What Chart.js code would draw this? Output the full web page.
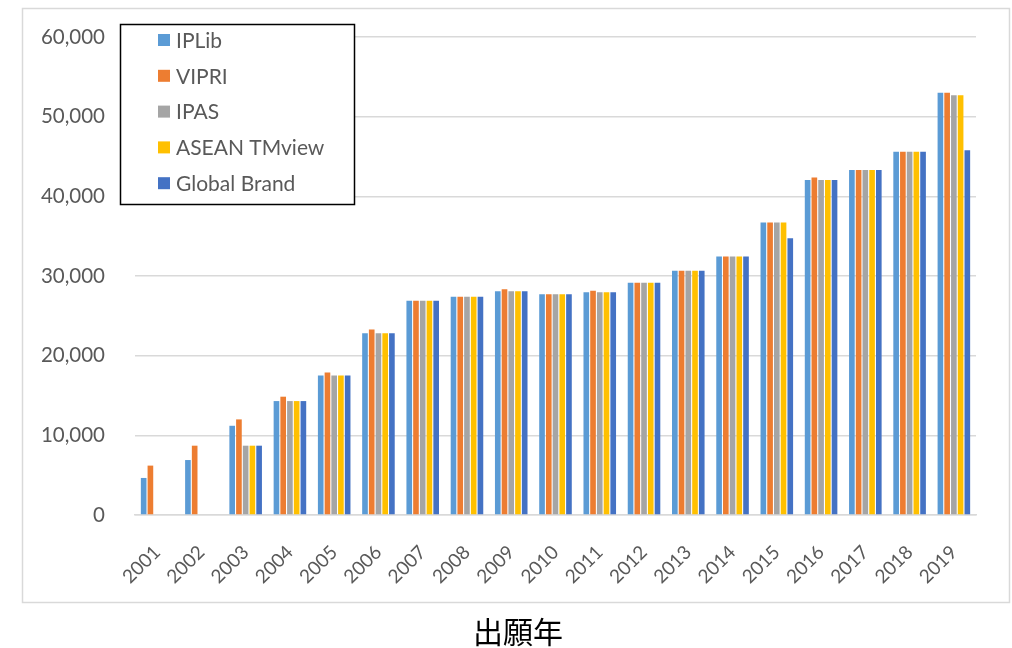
<!DOCTYPE html>
<html>
<head>
<meta charset="utf-8">
<script src="https://cdn.jsdelivr.net/npm/chart.js@4/dist/chart.umd.min.js"></script>
<style>
  html, body { margin: 0; padding: 0; background: #ffffff; }
  #wrap { position: relative; width: 1012px; height: 648px; }
  canvas { display: block; }
</style>
</head>
<body>
<div id="wrap"><canvas id="c" width="1012" height="648"></canvas></div>
<script>
const years = ['2001','2002','2003','2004','2005','2006','2007','2008','2009','2010','2011','2012','2013','2014','2015','2016','2017','2018','2019'];
const seriesNames = ['IPLib', 'VIPRI', 'IPAS', 'ASEAN TMview', 'Global Brand'];
const ipLib       = [4650, 6900, 11200, 14300, 17500, 22800, 26900, 27400, 28100, 27700, 27950, 29150, 30650, 32450, 36700, 42050, 43300, 45600, 53000];
const vipri       = [6200, 8700, 12000, 14850, 17900, 23300, 26900, 27400, 28350, 27700, 28150, 29150, 30650, 32450, 36700, 42350, 43300, 45600, 53000];
const ipas        = [null, null, 8700, 14300, 17500, 22800, 26900, 27400, 28100, 27700, 27950, 29150, 30650, 32450, 36700, 42050, 43300, 45600, 52700];
const aseanTMview = [null, null, 8700, 14300, 17500, 22800, 26900, 27400, 28100, 27700, 27950, 29150, 30650, 32450, 36700, 42050, 43300, 45600, 52700];
const globalBrand = [null, null, 8700, 14300, 17500, 22800, 26900, 27400, 28100, 27700, 27950, 29150, 30650, 32450, 34750, 42050, 43300, 45600, 45800];
const yTicks = [0, 10000, 20000, 30000, 40000, 50000, 60000];
const axisTitle = '出願年';

const colors = ['#5B9BD5', '#ED7D31', '#A5A5A5', '#FFC000', '#4472C4'];
const allSeries = [ipLib, vipri, ipas, aseanTMview, globalBrand];

const FONT = 'Lato, "Open Sans", "Liberation Sans", sans-serif';

const decorPlugin = {
  id: 'decor',
  beforeDraw(chart) {
    const ctx = chart.ctx;
    ctx.save();
    ctx.fillStyle = '#ffffff';
    ctx.fillRect(0, 0, chart.width, chart.height);
    ctx.strokeStyle = '#d9d9d9';
    ctx.lineWidth = 1.5;
    ctx.strokeRect(22.5, 8.5, 987, 594);
    ctx.restore();
  },
  afterDraw(chart) {
    const ctx = chart.ctx;
    ctx.save();
    // legend box
    const bx = 120, by = 24, bw = 234, bh = 180;
    ctx.fillStyle = '#ffffff';
    ctx.fillRect(bx, by, bw, bh);
    ctx.strokeStyle = '#000000';
    ctx.lineWidth = 1.5;
    ctx.strokeRect(bx + 0.5, by + 0.5, bw, bh);
    ctx.font = '21px ' + FONT;
    ctx.textBaseline = 'middle';
    chart.data.datasets.forEach((ds, i) => {
      const cy = by + 16 + i * 35.8;
      ctx.fillStyle = ds.backgroundColor;
      ctx.fillRect(bx + 38, cy - 6, 12, 12);
      ctx.fillStyle = '#595959';
      ctx.fillText(ds.label, bx + 56, cy + 1);
    });
    // axis title
    ctx.fillStyle = '#000000';
    ctx.font = '30px "Noto Sans CJK JP", sans-serif';
    ctx.textAlign = 'center';
    ctx.fillText(axisTitle, 518, 632);
    ctx.restore();
  }
};

new Chart(document.getElementById('c'), {
  type: 'bar',
  data: {
    labels: years,
    datasets: seriesNames.map((name, i) => ({
      label: name,
      data: allSeries[i],
      backgroundColor: colors[i],
      borderWidth: 0,
      barPercentage: 0.84,
      categoryPercentage: 0.76
    }))
  },
  options: {
    responsive: false,
    animation: false,
    devicePixelRatio: 1,
    layout: { padding: { left: 22, top: 37, right: 36, bottom: 0 } },
    plugins: {
      legend: { display: false },
      tooltip: { enabled: false },
      title: { display: false }
    },
    scales: {
      x: {
        grid: { display: false, drawTicks: false },
        border: { display: true, color: '#d9d9d9', width: 1.5 },
        ticks: {
          color: '#595959',
          font: { family: FONT, size: 19 },
          minRotation: 45,
          maxRotation: 45,
          padding: 26,
          autoSkip: false
        },
        afterFit(scale) { scale.height = 133; }
      },
      y: {
        min: 0,
        max: 60000,
        afterBuildTicks(scale) { scale.ticks = yTicks.map(v => ({ value: v })); },
        grid: { color: '#d9d9d9', lineWidth: 1.5, drawTicks: false },
        border: { display: false },
        ticks: {
          color: '#595959',
          font: { family: FONT, size: 20.5 },
          padding: 30,
          callback: (v) => v.toLocaleString('en-US')
        },
        afterFit(scale) {
          scale.width = 113;
          scale.paddingTop = 0;
          scale.paddingBottom = 0;
        }
      }
    }
  },
  plugins: [decorPlugin]
});
</script>
</body>
</html>
